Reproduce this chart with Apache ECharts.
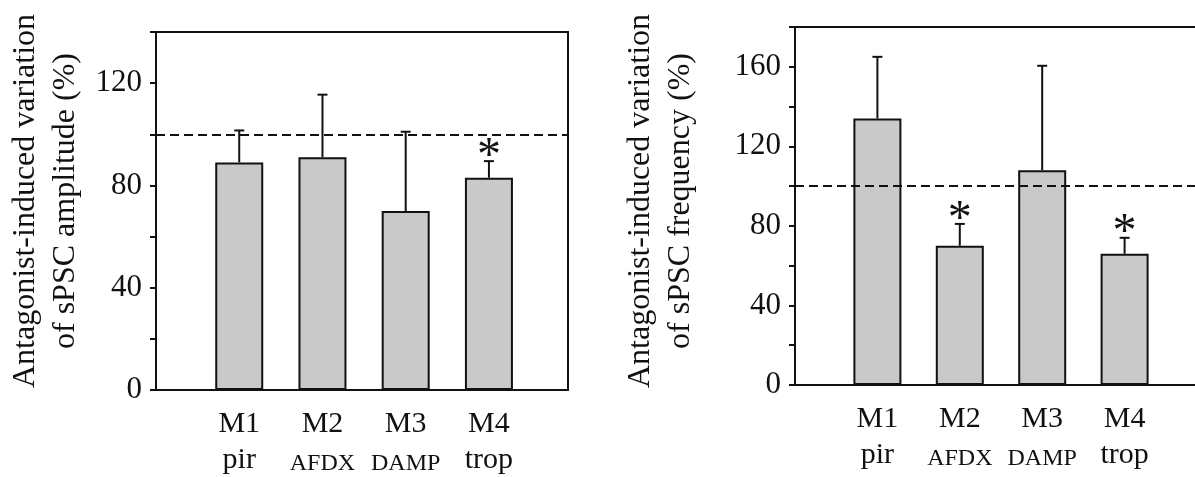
<!DOCTYPE html>
<html>
<head>
<meta charset="utf-8">
<script src="https://cdn.jsdelivr.net/npm/echarts@6/dist/echarts.min.js"></script>
<style>
html,body{margin:0;padding:0;background:#fff;}
#c{width:1195px;height:477px;}
</style>
</head>
<body>
<div id="c"></div>
<script>
// ---- data ----
const receptors = ['M1', 'M2', 'M3', 'M4'];
const antagonists = ['pir', 'AFDX', 'DAMP', 'trop'];
const amplitudeMean = [89, 91, 70, 83];
const amplitudeErrTop = [101.5, 115.5, 101, 89.5];
const amplitudeSig = [false, false, false, true];
const frequencyMean = [134, 70, 108, 66];
const frequencyErrTop = [165, 81, 160.5, 74];
const frequencySig = [false, true, false, true];
const amplitudeTicks = [0, 40, 80, 120];
const frequencyTicks = [0, 40, 80, 120, 160];
const controlLevel = 100;

const FONT = '"Liberation Serif", "Times New Roman", serif';
const INK = '#111';

function xLabel(v) {
  const i = Math.round(v) - 1;
  if (Math.abs(v - Math.round(v)) > 1e-6 || i < 0 || i >= receptors.length) return '';
  const name = antagonists[i];
  const small = name === name.toUpperCase();
  return '{a|' + receptors[i] + '}\n{' + (small ? 'c' : 'b') + '|' + name + '}';
}

function makeXAxis(gridIndex, max) {
  return {
    type: 'value', gridIndex: gridIndex, min: 0, max: max, interval: 1,
    splitLine: {show: false},
    axisTick: {show: false},
    axisLine: {show: true, onZero: false, lineStyle: {color: INK, width: 2}},
    axisLabel: {
      margin: 16, formatter: xLabel, showMinLabel: true, showMaxLabel: true,
      rich: {
        a: {fontFamily: FONT, fontSize: 30, color: INK, lineHeight: 36},
        b: {fontFamily: FONT, fontSize: 30, color: INK, lineHeight: 36},
        c: {fontFamily: FONT, fontSize: 24, color: INK, lineHeight: 36, padding: [8, 0, 0, 0]}
      }
    }
  };
}

function makeYAxis(gridIndex, max, ticks, name, gap, pad) {
  return {
    type: 'value', gridIndex: gridIndex, min: 0, max: max, interval: 20,
    splitLine: {show: false},
    axisLine: {show: true, lineStyle: {color: INK, width: 2}},
    axisTick: {show: true, inside: false, length: 6, lineStyle: {color: INK, width: 2}},
    axisLabel: {
      margin: 14, fontFamily: FONT, fontSize: 31, color: INK,
      formatter: function (v) { return ticks.indexOf(v) >= 0 ? String(v) : ''; }
    },
    name: name, nameLocation: 'middle', nameRotate: 90, nameGap: gap,
    nameTextStyle: {fontFamily: FONT, fontSize: 32, color: INK, lineHeight: 40, padding: pad}
  };
}

function barSeries(idx, means) {
  return {
    type: 'bar', xAxisIndex: idx, yAxisIndex: idx,
    data: means.map((m, i) => [i + 1, m]),
    barWidth: 48,
    itemStyle: {color: '#c9c9c9', borderColor: INK, borderWidth: 2},
    silent: true,
    markLine: {
      silent: true, symbol: 'none', label: {show: false},
      lineStyle: {color: INK, width: 2, type: [9, 5]},
      data: [{yAxis: controlLevel}]
    }
  };
}

function errSeries(idx, means, tops, sig) {
  return {
    type: 'custom', xAxisIndex: idx, yAxisIndex: idx,
    data: means.map((m, i) => [i + 1, m, tops[i], sig[i] ? 1 : 0]),
    silent: true, z: 5,
    renderItem: function (params, api) {
      const p0 = api.coord([api.value(0), api.value(1)]);
      const p1 = api.coord([api.value(0), api.value(2)]);
      const style = {stroke: INK, lineWidth: 2};
      const children = [
        {type: 'line', shape: {x1: p0[0], y1: p0[1], x2: p1[0], y2: p1[1]}, style: style},
        {type: 'line', shape: {x1: p1[0] - 5, y1: p1[1], x2: p1[0] + 5, y2: p1[1]}, style: style}
      ];
      if (api.value(3)) {
        children.push({
          type: 'text',
          style: {text: '*', x: p1[0], y: p1[1] + 20, textAlign: 'center', textVerticalAlign: 'bottom',
                  fontFamily: FONT, fontSize: 48, fill: INK}
        });
      }
      return {type: 'group', children: children};
    }
  };
}

const chart = echarts.init(document.getElementById('c'), null, {renderer: 'canvas'});
chart.setOption({
  backgroundColor: '#fff',
  animation: false,
  grid: [
    {left: 156, top: 32, width: 412, height: 358, show: true, borderColor: INK, borderWidth: 2, outerBoundsMode: 'none'},
    {left: 795, top: 27, width: 412, height: 358, show: true, borderColor: INK, borderWidth: 2, outerBoundsMode: 'none'}
  ],
  xAxis: [makeXAxis(0, 4.95), makeXAxis(1, 5)],
  yAxis: [
    makeYAxis(0, 140, amplitudeTicks, 'Antagonist-induced variation\nof sPSC amplitude (%)', 70, [0, 0, 0, 20]),
    makeYAxis(1, 180, frequencyTicks, 'Antagonist-induced variation\nof sPSC frequency (%)', 94, [0, 0, 0, 10])
  ],
  series: [
    barSeries(0, amplitudeMean),
    errSeries(0, amplitudeMean, amplitudeErrTop, amplitudeSig),
    barSeries(1, frequencyMean),
    errSeries(1, frequencyMean, frequencyErrTop, frequencySig)
  ]
});
</script>
</body>
</html>
